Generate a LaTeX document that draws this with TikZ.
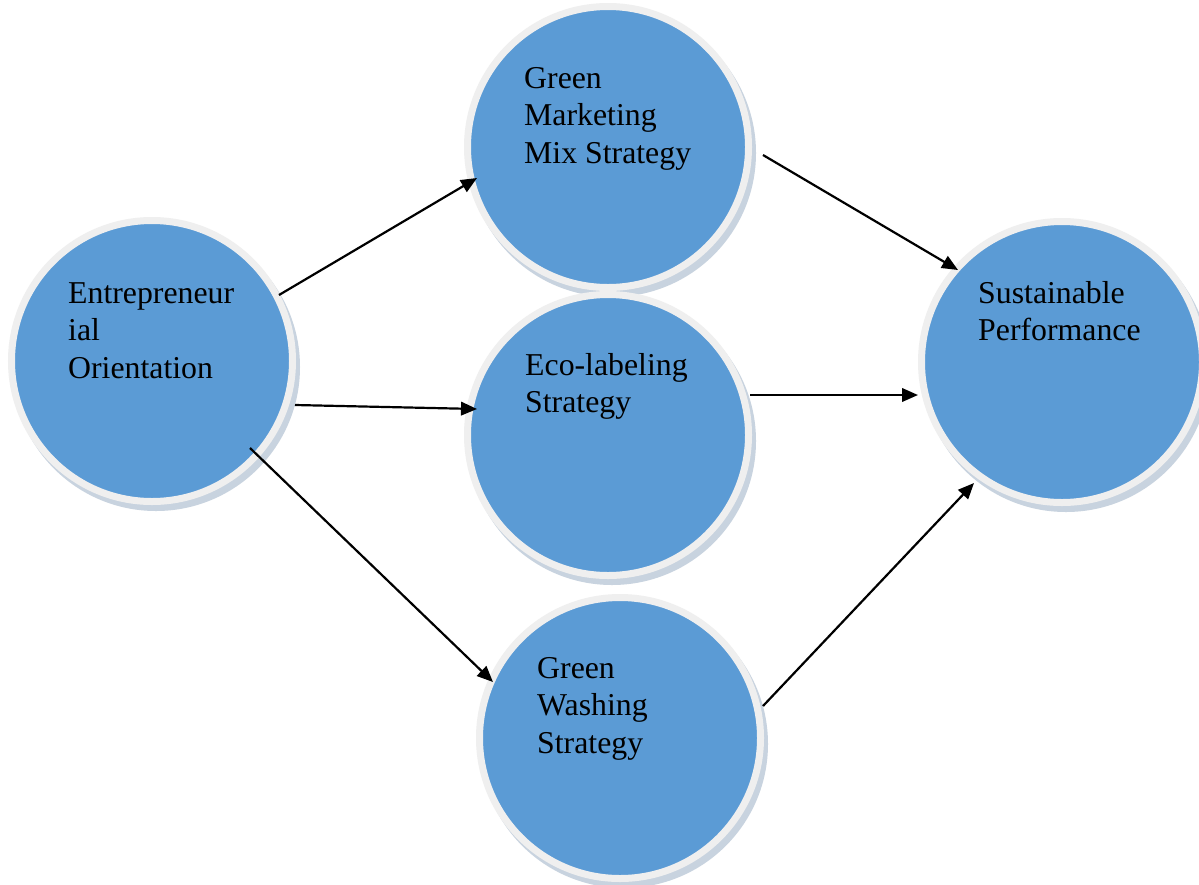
\documentclass[tikz,border=0pt]{standalone}
\usepackage{fontspec}
\setmainfont{Liberation Serif}
\usetikzlibrary{arrows.meta,calc}
\definecolor{cblue}{HTML}{5B9BD5}
\definecolor{cring}{HTML}{EFEFEF}
\definecolor{cshadow}{HTML}{C8D3DF}
\newcommand{\lbltext}[1]{\parbox[t]{300pt}{\raggedright\fontsize{31.8}{37.5}\selectfont #1}}
\begin{document}
\begin{tikzpicture}[x=1pt,y=-1pt,
  bubble/.style={circle, fill=cblue, draw=cring, line width=7pt, minimum size=281pt, inner sep=0pt},
  bshadow/.style={circle, fill=cshadow, minimum size=288pt, inner sep=0pt, draw=none},
  lbl/.style={anchor=base west, inner sep=0pt},
  arr/.style={-{Triangle[length=16pt,width=13.5pt]}, line width=2.2pt, black}]
\useasboundingbox (0,0) rectangle (1199,884);
\fill[white] (0,0) rectangle (1199,884);
% shadows
\node[bshadow] (eo-s) at (156,367) {};
\node[bshadow] (gm-s) at (612,153) {};
\node[bshadow] (el-s) at (612,441) {};
\node[bshadow] (gw-s) at (624,744) {};
\node[bshadow] (sp-s) at (1066,368) {};
% circles
\node[bubble] (eo) at (152,361) {};
\node[bubble] (gm) at (608,147) {};
\node[bubble] (el) at (608,435) {};
\node[bubble] (gw) at (620,738) {};
\node[bubble] (sp) at (1062,362) {};
% labels
\node[lbl] (eo-t) at (68,303) {\lbltext{Entrepreneur\\ial\\Orientation}};
\node[lbl] (gm-t) at (524,88) {\lbltext{Green\\Marketing\\Mix Strategy}};
\node[lbl] (el-t) at (525,375) {\lbltext{Eco-labeling\\Strategy}};
\node[lbl] (gw-t) at (537,678) {\lbltext{Green\\Washing\\Strategy}};
\node[lbl] (sp-t) at (978,303) {\lbltext{Sustainable\\Performance}};
% connectors
\draw[arr] ($(eo.center)+(127,-66)$) -- ($(gm.center)+(-131,31)$);
\draw[arr] ($(eo.center)+(143,44)$) -- ($(el.center)+(-131,-26)$);
\draw[arr] ($(eo.center)+(98,87)$) -- ($(gw.center)+(-127,-56)$);
\draw[arr] ($(gm.center)+(155,8)$) -- ($(sp.center)+(-104,-92)$);
\draw[arr] ($(el.center)+(142,-40)$) -- ($(sp.center)+(-144,33)$);
\draw[arr] ($(gw.center)+(143,-32)$) -- ($(sp.center)+(-88,121)$);
\end{tikzpicture}
\end{document}
